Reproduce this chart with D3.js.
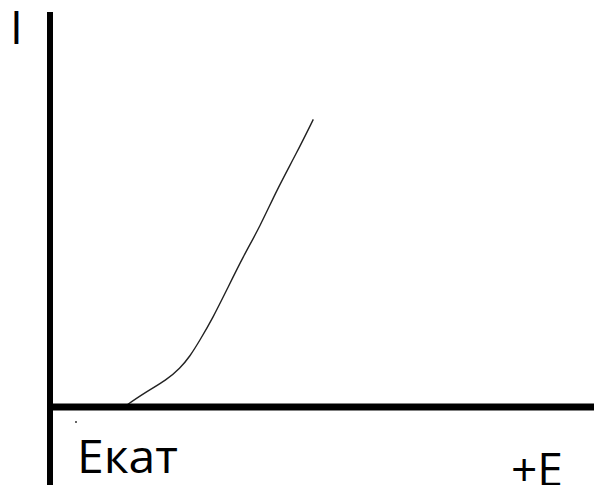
<!DOCTYPE html>
<html>
<head>
<meta charset="utf-8">
<script src="https://cdn.jsdelivr.net/npm/d3@7"></script>
<style>
  html, body { margin: 0; padding: 0; background: #fff; }
  svg { display: block; }
</style>
</head>
<body>
<div id="chart"></div>
<script>
// Curve points (arbitrary units)
const potential = [13.6, 17.2, 21.5, 23.9, 25.7, 27.6, 29.9, 32.5, 35.5, 38.6, 41.7, 45.3, 48.4];
const current = [0, 3.4, 6.8, 9.7, 12.6, 16.8, 22.2, 29.3, 37.6, 45.1, 54.3, 63.4, 71.9];
const axisLabels = ['I', 'Екат', '+E'];

const width = 594;
const height = 485;

const svg = d3.select('#chart')
  .append('svg')
  .attr('width', width)
  .attr('height', height)
  .attr('viewBox', [0, 0, width, height]);

const x = d3.scaleLinear().domain([0, 100]).range([50, 594]);
const y = d3.scaleLinear().domain([0, 100]).range([407, 7]);

const points = potential.map((e, i) => ({ e, i: current[i] }));

// curve
svg.append('path')
  .datum(points)
  .attr('fill', 'none')
  .attr('stroke', '#222')
  .attr('stroke-width', 1.4)
  .attr('d', d3.line()
    .x(d => x(d.e))
    .y(d => y(d.i))
    .curve(d3.curveBasis));

// axes
svg.append('line')
  .attr('x1', x(0)).attr('x2', x(0))
  .attr('y1', 12).attr('y2', height)
  .attr('stroke', '#000')
  .attr('stroke-width', 6);

svg.append('line')
  .attr('x1', x(0) - 3).attr('x2', width)
  .attr('y1', y(0)).attr('y2', y(0))
  .attr('stroke', '#000')
  .attr('stroke-width', 7);

// labels
const font = '"Open Sans", "DejaVu Sans", sans-serif';

svg.append('text')
  .attr('x', 10).attr('y', 44)
  .attr('font-family', font)
  .attr('font-size', 46)
  .attr('fill', '#000')
  .text(axisLabels[0]);

svg.append('text')
  .attr('x', 77).attr('y', 473)
  .attr('font-family', font)
  .attr('font-size', 46)
  .attr('fill', '#000')
  .attr('textLength', 101)
  .attr('lengthAdjust', 'spacingAndGlyphs')
  .text(axisLabels[1]);

svg.append('text')
  .attr('x', 511).attr('y', 486)
  .attr('font-family', font)
  .attr('font-size', 46)
  .attr('fill', '#000')
  .attr('textLength', 52)
  .attr('lengthAdjust', 'spacingAndGlyphs')
  .text(axisLabels[2]);

// small speck under the axis
svg.append('circle')
  .attr('cx', 76).attr('cy', 422)
  .attr('r', 1)
  .attr('fill', '#333');
</script>
</body>
</html>
